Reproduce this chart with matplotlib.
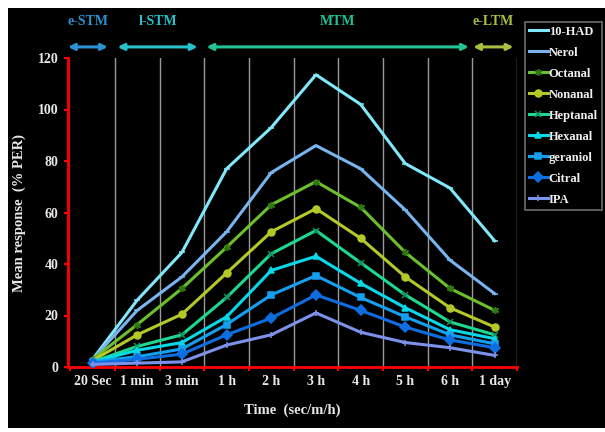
import matplotlib
matplotlib.use('Agg')
import matplotlib.pyplot as plt
from matplotlib.patches import Rectangle

times = ['20 Sec', '1 min', '3 min', '1 h', '2 h', '3 h', '4 h', '5 h', '6 h', '1 day']

had10 = [3, 26, 44.5, 77, 93, 113.5, 102, 79, 69.5, 49]
nerol = [3, 22, 35, 52.5, 75.5, 86, 77, 61, 41.5, 28.5]
octanal = [3, 16.5, 30.5, 46.5, 63, 72, 62, 44.5, 30.5, 22]
nonanal = [2.5, 12.5, 20.5, 36.5, 52.5, 61.5, 50, 35, 23, 15.5]
heptanal = [2, 8, 12.5, 27, 44, 53, 40.5, 28, 17.5, 12.5]
hexanal = [2, 6.5, 9.5, 19.5, 37.5, 43, 32.5, 23, 14.5, 11]
geraniol = [2, 4, 7, 16.5, 28, 35.5, 27, 19.5, 12.5, 9]
citral = [1.5, 3, 5, 12.5, 19, 28, 22, 15.5, 10.5, 7.5]
ipa = [1, 1.5, 2, 8.5, 12.5, 21, 13.5, 9.5, 7.5, 4.5]

series = [
    ('10-HAD', had10, '#80e8f8', '_', '#80e8f8'),
    ('Nerol', nerol, '#78b4ee', '_', '#78b4ee'),
    ('Octanal', octanal, '#6cbf2c', (6, 2, 0), '#2f7a10'),
    ('Nonanal', nonanal, '#b4c828', 'o', '#b4c828'),
    ('Heptanal', heptanal, '#1cd890', 'x', '#10905a'),
    ('Hexanal', hexanal, '#08d8e8', '^', '#08d8e8'),
    ('geraniol', geraniol, '#14a0f0', 's', '#14a0f0'),
    ('Citral', citral, '#0c6ee0', 'D', '#0c6ee0'),
    ('IPA', ipa, '#7c92ea', '+', '#7c92ea'),
]

phases = ['e-STM', 'l-STM', 'MTM', 'e-LTM']
phase_colors = ['#2a92d2', '#26c2cc', '#22c496', '#a8c040']

serif = ['Liberation Serif', 'DejaVu Serif']

fig = plt.figure(figsize=(6.05, 4.32), dpi=100)
fig.patch.set_facecolor('white')
fig.add_artist(Rectangle((8 / 605, 0.01), 1 - 8 / 605, 1 - 8 / 432 - 0.01,
                         transform=fig.transFigure, facecolor='black',
                         edgecolor='none', zorder=-10))

ax = fig.add_axes([68 / 605, 1 - 367 / 432, 449 / 605, 309 / 432])
ax.set_facecolor('black')

x = list(range(len(times)))
for name, vals, col, mk, mcol in series:
    ax.plot(x, vals, color=col, lw=2.2, marker=mk, markersize=5,
            markerfacecolor=mcol, markeredgecolor=mcol, markeredgewidth=1.1,
            label=name, zorder=3)

ax.set_xlim(-0.55, 9.5)
ax.set_ylim(0, 120)

# grid lines between categories
for b in range(len(times)):
    ax.axvline(b + 0.5, color='#9a9a9a', lw=1, zorder=1)

ax.set_xticks([b - 0.5 for b in range(len(times))] + [9.5])
ax.set_xticklabels([])
ax.set_xticks(x, minor=True)
ax.set_xticklabels(times, minor=True, family=serif, fontweight='bold',
                   fontsize=10, color='#e8e8e8')
ax.tick_params(axis='x', which='major', color='red', length=3, width=1.5)
ax.tick_params(axis='x', which='minor', length=0, pad=6)
ax.set_yticks(range(0, 121, 20))
ax.set_yticklabels([str(v) for v in range(0, 121, 20)], family=serif,
                   fontweight='bold', fontsize=10, color='#e8e8e8')
ax.tick_params(axis='y', color='red', length=3, width=1.5, pad=4)

for s in ['top', 'right']:
    ax.spines[s].set_visible(False)
for s in ['left', 'bottom']:
    ax.spines[s].set_color('red')
    ax.spines[s].set_linewidth(2)

ax.set_xlabel('Time  (sec/m/h)', family=serif, fontweight='bold',
              fontsize=10.5, color='#e8e8e8', labelpad=11)
ax.set_ylabel('Mean response  (% PER)', family=serif, fontweight='bold',
              fontsize=10.5, color='#e8e8e8', labelpad=8)

# memory phase arrows
spans = [(-0.55, 0.34), (0.56, 2.35), (2.55, 8.42), (8.52, 9.42)]
for name, (x0, x1), col in zip(phases, spans, phase_colors):
    ax.annotate('', xy=(x0, 124.3), xytext=(x1, 124.3),
                arrowprops=dict(arrowstyle='<|-|>', color=col, lw=2.2,
                                mutation_scale=9, shrinkA=0, shrinkB=0),
                annotation_clip=False)
    ax.text((x0 + x1) / 2, 134, name, ha='center', va='center', color=col,
            family=serif, fontweight='bold', fontsize=10, clip_on=False)

leg = ax.legend(loc='upper left', bbox_to_anchor=(525 / 605, 1 - 22 / 432),
                bbox_transform=fig.transFigure, frameon=True, fancybox=False,
                prop={'family': serif, 'weight': 'bold', 'size': 9},
                handlelength=1.5, handletextpad=0.1, labelspacing=0.72,
                borderpad=0.3, borderaxespad=0)
leg.get_frame().set_facecolor('black')
leg.get_frame().set_edgecolor('#8a8a8a')
leg.get_frame().set_linewidth(1.2)
for t in leg.get_texts():
    t.set_color('#f0f0f0')

plt.savefig('out.png', dpi=100, facecolor=fig.get_facecolor())
